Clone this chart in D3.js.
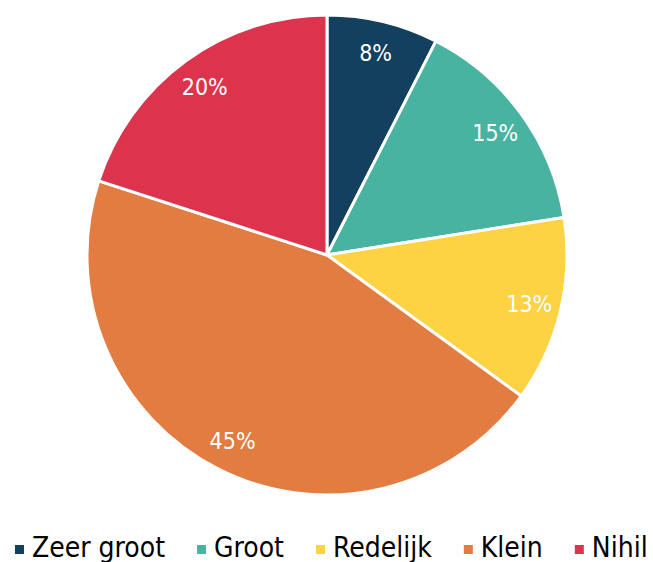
<!DOCTYPE html>
<html><head><meta charset="utf-8">
<script src="https://cdn.jsdelivr.net/npm/d3@7"></script>
<style>body{margin:0;background:#fff;}svg{display:block;font-family:"DejaVu Sans Condensed","DejaVu Sans",sans-serif;font-stretch:condensed;}</style>
</head><body>
<svg id="c" width="653" height="562"></svg>
<script>
const categories = ["Zeer groot","Groot","Redelijk","Klein","Nihil"];
const values = [7.5,15,12.5,45,20];
const colors = ["#12405e","#48b3a0","#fdd243","#e37c40","#dd344d"];

const svg = d3.select("#c");
const cx = 327, cy = 255, R = 240;
const total = d3.sum(values);
const pie = d3.pie().sort(null).value(d=>d.v);
const data = pie(categories.map((c,i)=>({c, v:values[i], col:colors[i]})));
const arc = d3.arc().innerRadius(0).outerRadius(R);
const labelArc = d3.arc().innerRadius(208).outerRadius(208);
const g = svg.append("g").attr("transform",`translate(${cx},${cy})`);
g.selectAll("path").data(data).join("path")
  .attr("d",arc).attr("fill",d=>d.data.col)
  .attr("stroke","#fff").attr("stroke-width",3).attr("stroke-linejoin","round");
g.selectAll("text").data(data).join("text")
  .attr("transform",d=>`translate(${labelArc.centroid(d)})`)
  .attr("text-anchor","middle").attr("dy","0.36em")
  .attr("fill","#fff").attr("font-size",23)
  .text(d=>Math.round(d.data.v/total*100)+"%");

const leg = svg.append("g");
let x = 15;
categories.forEach((c,i)=>{
  leg.append("rect").attr("x",x).attr("y",545).attr("width",9).attr("height",9).attr("fill",colors[i]);
  const t = leg.append("text").attr("x",x+17).attr("y",557).attr("font-size",28).attr("fill","#000").text(c);
  const w = t.node().getComputedTextLength();
  x = x + 17 + w + 32;
});
</script>
</body></html>
